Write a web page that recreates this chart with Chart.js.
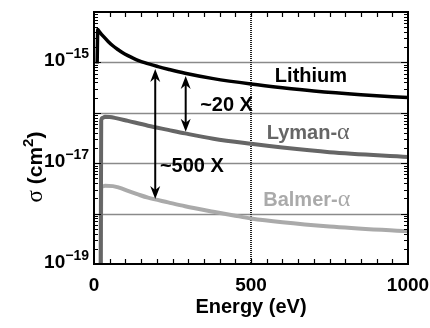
<!DOCTYPE html>
<html>
<head>
<meta charset="utf-8">
<script src="https://cdn.jsdelivr.net/npm/chart.js@4"></script>
<style>
  html, body { margin: 0; padding: 0; background: #fff; }
  canvas { display: block; }
</style>
</head>
<body>
<canvas id="chart" width="430" height="328"></canvas>
<script>
// cross sections vs. energy
const liEnergy = [10, 12, 16, 20, 30, 45, 60, 76, 90, 108, 125, 140, 161, 204, 236, 290, 380, 500, 600, 700, 850, 1000];
const liSigma = [9.5e-16, 4.52e-15, 4.16e-15, 3.86e-15, 3.28e-15, 2.61e-15, 2.14e-15, 1.80e-15, 1.57e-15, 1.36e-15, 1.21e-15,
  1.10e-15, 9.86e-16, 8.25e-16, 7.33e-16, 6.10e-16, 4.77e-16, 3.73e-16, 3.15e-16, 2.72e-16, 2.29e-16, 2.00e-16];

const lyEnergy = [21, 23, 27, 35, 50, 70, 108, 172, 236, 290, 380, 500, 600, 750, 1000];
const lySigma = [1e-20, 7.06e-17, 7.92e-17, 8.37e-17, 8.29e-17, 7.85e-17, 6.90e-17, 5.55e-17, 4.58e-17, 3.90e-17, 3.06e-17,
  2.42e-17, 2.04e-17, 1.65e-17, 1.33e-17];

const baEnergy = [21, 23, 27, 35, 60, 80, 108, 140, 172, 236, 290, 380, 450, 500, 600, 750, 1000];
const baSigma = [1e-20, 3.16e-18, 3.47e-18, 3.55e-18, 3.51e-18, 3.27e-18, 2.82e-18, 2.40e-18, 2.07e-18, 1.67e-18, 1.40e-18,
  1.09e-18, 9.08e-19, 8.03e-19, 6.75e-19, 5.57e-19, 4.44e-19];

const xTicks = [0, 500, 1000];
const yTickExps = [-15, -17, -19];
const gridValues = [1e-18, 1e-17, 1e-16, 1e-15];
const markerEnergy = 500;

// ratio arrows: energy, top value, bottom value
const arrowEnergy = [195, 292];
const arrowTop = [7.4e-16, 5.4e-16];
const arrowBottom = [1.95e-18, 4.2e-17];

// annotation texts anchored at (energy, sigma) = left end of baseline
const noteText = ['~20 X', '~500 X', 'Lithium', 'Lyman-', 'Balmer-'];
const noteEnergy = [338, 210, 576, 550, 539];
const noteSigma = [1.1e-16, 6.6e-18, 4.0e-16, 3.0e-17, 1.39e-18];
const noteColor = ['#000', '#000', '#000', '#666', '#aaa'];
const noteAlpha = [false, false, false, true, true];

const SANS = '"Liberation Sans", Arial, Helvetica, sans-serif';
const SERIF = '"Liberation Serif", "Times New Roman", serif';

const toPoints = (xs, ys) => xs.map((x, i) => ({ x: x, y: ys[i] }));

function arrowHead(ctx, x, y, dir) {
    // dir = -1 points up, 1 points down
    const len = 13, half = 5, notch = 4;
    ctx.beginPath();
    ctx.moveTo(x, y);
    ctx.lineTo(x - half, y - dir * len);
    ctx.lineTo(x, y - dir * (len - notch));
    ctx.lineTo(x + half, y - dir * len);
    ctx.closePath();
    ctx.fill();
}

const decorPlugin = {
    id: 'decor',
    beforeDatasetsDraw(chart) {
        const { ctx, chartArea: a, scales: { x, y } } = chart;
        ctx.save();
        ctx.strokeStyle = '#8a8a8a';
        ctx.lineWidth = 1.5;
        gridValues.forEach(v => {
            const py = Math.round(y.getPixelForValue(v)) + 0.5;
            ctx.beginPath();
            ctx.moveTo(a.left, py);
            ctx.lineTo(a.right, py);
            ctx.stroke();
        });
        const px = Math.round(x.getPixelForValue(markerEnergy));
        ctx.strokeStyle = '#222';
        ctx.lineWidth = 2;
        ctx.setLineDash([1, 1]);
        ctx.beginPath();
        ctx.moveTo(px, a.top);
        ctx.lineTo(px, a.bottom);
        ctx.stroke();
        ctx.restore();
    },
    afterDatasetsDraw(chart) {
        const { ctx, chartArea: a, scales: { x, y } } = chart;
        ctx.save();

        // frame
        ctx.strokeStyle = '#000';
        ctx.lineWidth = 2;
        ctx.strokeRect(a.left, a.top, a.right - a.left, a.bottom - a.top);

        // inward minor ticks
        ctx.lineWidth = 1.2;
        ctx.beginPath();
        for (let e = 50; e < 1000; e += 50) {
            const px = Math.round(x.getPixelForValue(e)) + 0.5;
            ctx.moveTo(px, a.bottom); ctx.lineTo(px, a.bottom - 5);
            ctx.moveTo(px, a.top); ctx.lineTo(px, a.top + 5);
        }
        for (let d = -19; d < -14; d++) {
            for (let m = 1; m <= 9; m++) {
                const py = Math.round(y.getPixelForValue(m * Math.pow(10, d))) + 0.5;
                const len = m === 1 ? 7 : 4;
                ctx.moveTo(a.left, py); ctx.lineTo(a.left + len, py);
                ctx.moveTo(a.right, py); ctx.lineTo(a.right - len, py);
            }
        }
        ctx.stroke();

        // arrows
        ctx.fillStyle = '#000';
        ctx.lineWidth = 2;
        arrowEnergy.forEach((e, i) => {
            const px = x.getPixelForValue(e);
            const top = y.getPixelForValue(arrowTop[i]);
            const bot = y.getPixelForValue(arrowBottom[i]);
            ctx.beginPath();
            ctx.moveTo(px, top + 8);
            ctx.lineTo(px, bot - 8);
            ctx.stroke();
            arrowHead(ctx, px, top, -1);
            arrowHead(ctx, px, bot, 1);
        });

        // annotations
        ctx.textBaseline = 'alphabetic';
        ctx.textAlign = 'left';
        noteText.forEach((t, i) => {
            const px = x.getPixelForValue(noteEnergy[i]);
            const py = y.getPixelForValue(noteSigma[i]);
            ctx.fillStyle = noteColor[i];
            ctx.font = 'bold 20px ' + SANS;
            ctx.fillText(t, px, py);
            if (noteAlpha[i]) {
                const w = ctx.measureText(t).width;
                ctx.font = '24px ' + SERIF;
                ctx.fillText('α', px + w, py);
            }
        });

        // x tick labels
        ctx.fillStyle = '#000';
        ctx.font = 'bold 19px ' + SANS;
        ctx.textAlign = 'center';
        xTicks.forEach(v => {
            ctx.fillText(String(v), x.getPixelForValue(v), a.bottom + 27);
        });

        // y tick labels 10^n
        yTickExps.forEach(n => {
            const py = y.getPixelForValue(Math.pow(10, n));
            const exp = '\u2212' + String(-n);
            ctx.textAlign = 'right';
            ctx.font = 'bold 14px ' + SANS;
            const ew = ctx.measureText(exp).width;
            ctx.fillText(exp, a.left - 5, py - 4);
            ctx.font = 'bold 19px ' + SANS;
            ctx.fillText('10', a.left - 5 - ew, py + 4);
        });

        // x title
        ctx.textAlign = 'center';
        ctx.font = 'bold 20px ' + SANS;
        ctx.fillText('Energy (eV)', (a.left + a.right) / 2, 313);

        // y title, rotated
        ctx.translate(41.5, 167);
        ctx.rotate(-Math.PI / 2);
        ctx.textAlign = 'left';
        const parts = [
            ['σ', '23px ' + SERIF, 0],
            [' (cm', 'bold 21px ' + SANS, 0],
            ['2', 'bold 15px ' + SANS, -9],
            [')', 'bold 21px ' + SANS, 0]
        ];
        let total = 0;
        parts.forEach(p => { ctx.font = p[1]; total += ctx.measureText(p[0]).width; });
        let cx = -total / 2;
        parts.forEach(p => {
            ctx.font = p[1];
            ctx.fillText(p[0], cx, p[2]);
            cx += ctx.measureText(p[0]).width;
        });
        ctx.restore();
    }
};

const ctx = document.getElementById('chart').getContext('2d');
new Chart(ctx, {
    type: 'line',
    data: {
        datasets: [
            {
                label: 'Lyman-α',
                data: toPoints(lyEnergy, lySigma),
                borderColor: '#666666',
                borderWidth: 4
            },
            {
                label: 'Balmer-α',
                data: toPoints(baEnergy, baSigma),
                borderColor: '#aaaaaa',
                borderWidth: 4
            },
            {
                label: 'Lithium',
                data: toPoints(liEnergy, liSigma),
                borderColor: '#000000',
                borderWidth: 3.5
            }
        ]
    },
    options: {
        responsive: false,
        animation: false,
        devicePixelRatio: 1,
        layout: {
            padding: { left: 94, right: 22, top: 12, bottom: 64 }
        },
        datasets: {
            line: {
                pointRadius: 0,
                fill: false,
                cubicInterpolationMode: 'monotone',
                clip: 0
            }
        },
        scales: {
            x: { type: 'linear', min: 0, max: 1000, display: false },
            y: { type: 'logarithmic', min: 1e-19, max: 1e-14, display: false }
        },
        plugins: {
            legend: { display: false },
            tooltip: { enabled: false }
        }
    },
    plugins: [decorPlugin]
});
</script>
</body>
</html>
